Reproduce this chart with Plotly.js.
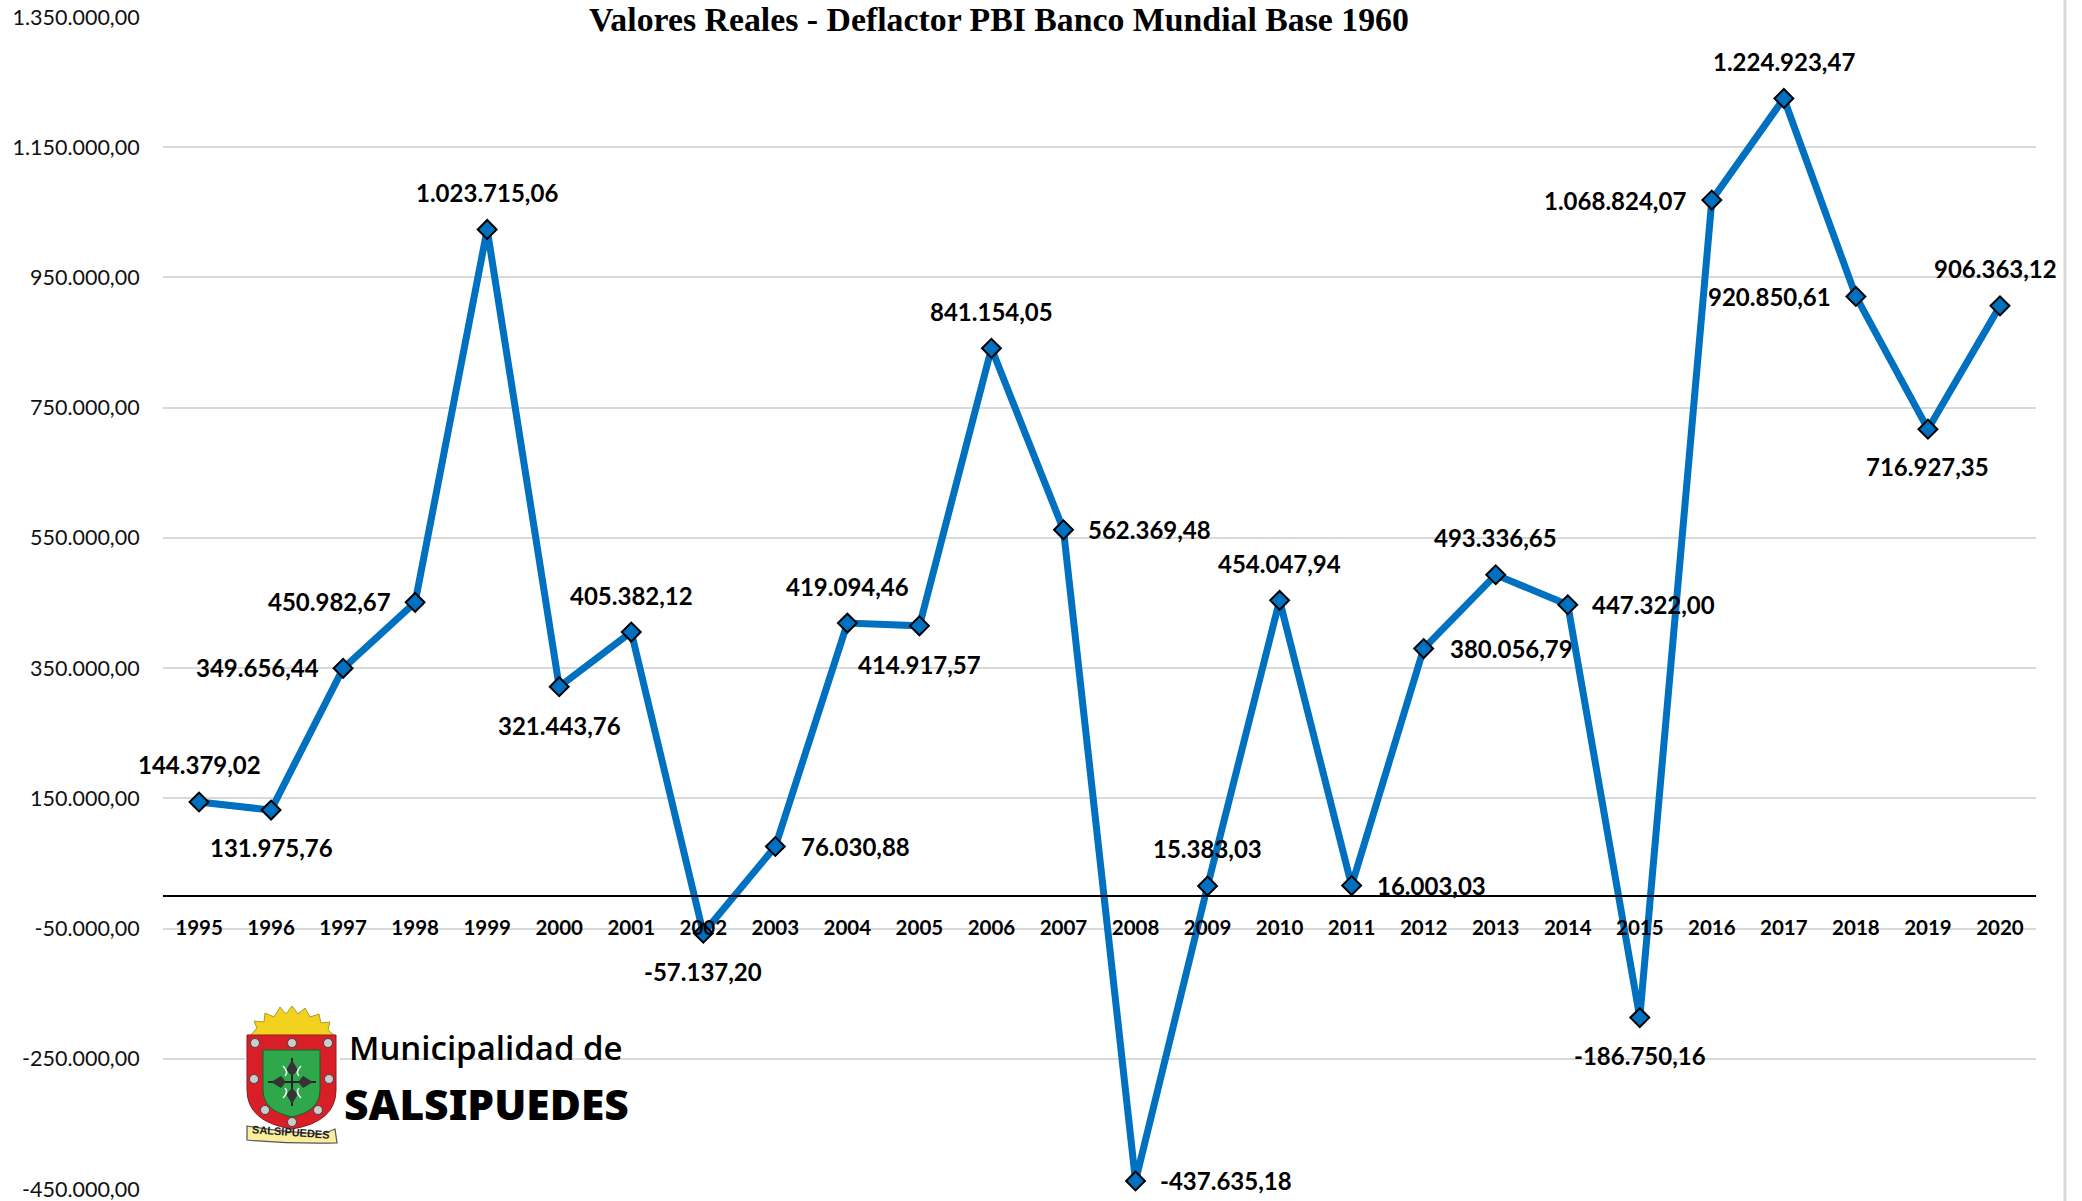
<!DOCTYPE html>
<html>
<head>
<meta charset="utf-8">
<script src="https://cdn.plot.ly/plotly-3.0.1.min.js"></script>
<style>html,body{margin:0;padding:0;background:#fff}#chart{width:2082px;height:1201px}</style>
</head>
<body>
<div id="chart"></div>
<script>
const years = ['1995','1996','1997','1998','1999','2000','2001','2002','2003','2004','2005','2006','2007','2008','2009','2010','2011','2012','2013','2014','2015','2016','2017','2018','2019','2020'];
const values = [144379.02,131975.76,349656.44,450982.67,1023715.06,321443.76,405382.12,-57137.20,76030.88,419094.46,414917.57,841154.05,562369.48,-437635.18,15383.03,454047.94,16003.03,380056.79,493336.65,447322.00,-186750.16,1068824.07,1224923.47,920850.61,716927.35,906363.12];
const yTicks = [-450000,-250000,-50000,150000,350000,550000,750000,950000,1150000,1350000];
const labelDx = [0,0,-86,-86,0,0,0,0,80,0,0,0,86,90,0,0,80,88,0,86,0,-97,0,-86,0,-4];
const labelDy = [-37,37,-1,-1,-37,39,-37,38,0,-37,39,-37,0,0,-37,-37,0,0,-37,0,38,0,-37,0,37,-37];

const fmt = v => v.toLocaleString('de-DE',{minimumFractionDigits:2,maximumFractionDigits:2});
const BLUE = '#0070C0', GRID = '#D9D9D9';
const L = 163, R = 2036, T = 17, B = 1189, W = 2082, H = 1201;
const px = x => (x - L) / (R - L), py = y => 1 - (y - T) / (B - T);

const shield = `<svg xmlns="http://www.w3.org/2000/svg" viewBox="0 0 95 140" width="95" height="140">
<rect width="95" height="140" fill="#fff"/>
<path d="M5 30 L12 22 L9 15 L19 16 L20 7 L29 11 L35 1 L41 8 L47 0 L53 8 L60 2 L65 11 L74 8 L76 17 L85 16 L83 24 L90 30 Z" fill="#F2D21F" stroke="#A89A2A" stroke-width="1"/>
<path d="M2 29 H91 V84 Q91 116 47 123 Q2 116 2 84 Z" fill="#D81E27" stroke="#8C1A1E" stroke-width="1"/>
<path d="M18 44 H75 V84 Q75 105 47 111 Q18 105 18 84 Z" fill="#2FA84B" stroke="#14602B" stroke-width="1"/>
<path d="M47 52 L47 100 M23 76 L71 76" stroke="#222" stroke-width="2"/>
<path d="M47 54 L41 64 L47 70 L53 64 Z M47 98 L41 88 L47 82 L53 88 Z M26 76 L36 70 L41 76 L36 82 Z M68 76 L58 70 L53 76 L58 82 Z" fill="#333"/>
<path d="M38 60 Q44 66 40 70 M56 60 Q50 66 54 70 M38 92 Q44 86 40 82 M56 92 Q50 86 54 82" stroke="#E8F5EA" stroke-width="1.6" fill="none"/>
<g fill="#ccc" stroke="#444" stroke-width="1"><circle cx="10" cy="37" r="4.5"/><circle cx="47" cy="37" r="4.5"/><circle cx="83" cy="37" r="4.5"/><circle cx="9" cy="73" r="4.5"/><circle cx="84" cy="73" r="4.5"/><circle cx="20" cy="104" r="4.5"/><circle cx="73" cy="104" r="4.5"/><circle cx="47" cy="116" r="4.5"/></g>
<path d="M2 120 Q45 127 78 128 L90 123 L92 137 Q45 138 2 134 Z" fill="#F8EE9C" stroke="#555" stroke-width="1.2"/>
</svg>`;

const data = [{
  type: 'scatter', mode: 'lines+markers', x: years, y: values,
  line: {color: BLUE, width: 7},
  marker: {symbol: 'diamond', size: 14.5, color: BLUE, line: {color: '#000', width: 2}},
  cliponaxis: false, hoverinfo: 'skip', showlegend: false
}];

const annotations = years.map((yr, i) => ({
  x: i, y: values[i], xref: 'x', yref: 'y', text: fmt(values[i]), showarrow: false,
  xshift: labelDx[i], yshift: -labelDy[i], xanchor: 'center', yanchor: 'middle',
  font: {family: 'Lato, sans-serif', size: 24, color: '#000', weight: 700}
}));
annotations.push(
  {xref:'paper', yref:'paper', x:px(486), y:py(1047), text:'Municipalidad de', showarrow:false, xanchor:'center', yanchor:'middle',
   font:{family:'Open Sans, sans-serif', size:33, color:'#000', weight:600}},
  {xref:'paper', yref:'paper', x:px(486), y:py(1103), text:'SALSIPUEDES', showarrow:false, xanchor:'center', yanchor:'middle',
   font:{family:'Noto Sans, sans-serif', size:42.5, color:'#000', weight:900}},
  {xref:'paper', yref:'paper', x:px(291), y:py(1132), text:'SALSIPUEDES', showarrow:false, xanchor:'center', yanchor:'middle', textangle:4,
   font:{family:'Liberation Sans, sans-serif', size:11, color:'#222', weight:700}}
);

const layout = {
  width: W, height: H, paper_bgcolor: '#fff', plot_bgcolor: '#fff', showlegend: false,
  margin: {l: L, r: W - R, t: T, b: H - B, pad: 0},
  title: {text: 'Valores Reales - Deflactor PBI Banco Mundial Base 1960', x: 999/W, xref: 'container', xanchor: 'center',
          y: 1 - 19/H, yref: 'container', yanchor: 'middle',
          font: {family: 'Liberation Serif, serif', size: 33.8, color: '#000', weight: 700}},
  xaxis: {type: 'category', anchor: 'free', position: 450000/1800000, range: [-0.5, 25.5], showgrid: false,
          showline: true, linecolor: '#000', linewidth: 2, zeroline: false,
          ticks: 'outside', ticklen: 13, tickcolor: 'rgba(0,0,0,0)', tickwidth: 1, automargin: false,
          tickfont: {family: 'Lato, sans-serif', size: 20.5, color: '#000', weight: 700}, tickangle: 0},
  yaxis: {range: [-450000, 1350000], tickvals: yTicks, ticktext: yTicks.map(fmt), showgrid: true, gridcolor: GRID, gridwidth: 2,
          zeroline: false, showline: false, ticks: 'outside', ticklen: 18, tickcolor: 'rgba(0,0,0,0)', automargin: false,
          ticklabeloverflow: 'allow', tickfont: {family: 'Lato, sans-serif', size: 21.5, color: '#111'}},
  annotations,
  shapes: [{type:'line', xref:'paper', yref:'paper', x0:px(2065), x1:px(2065), y0:py(1201), y1:py(0), line:{color:GRID, width:3}}],
  images: [{source:'data:image/svg+xml;utf8,'+encodeURIComponent(shield), xref:'paper', yref:'paper', x:px(245), y:py(1006), sizex:95/(R-L), sizey:140/(B-T), sizing:'stretch', xanchor:'left', yanchor:'top', layer:'above'}]
};

Plotly.newPlot('chart', data, layout, {displayModeBar: false, responsive: false});
</script>
</body>
</html>
